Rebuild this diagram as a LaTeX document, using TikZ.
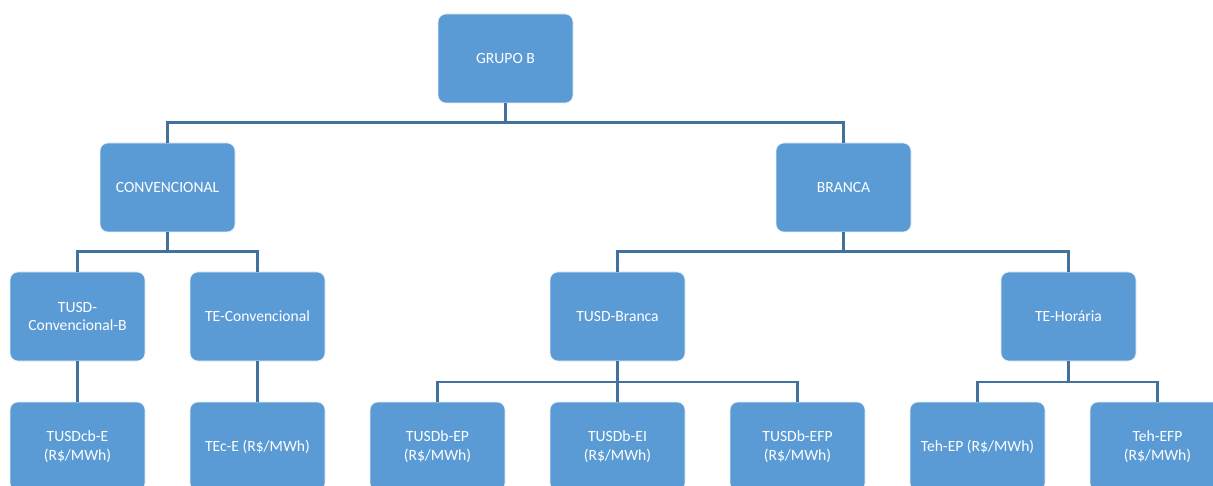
\documentclass[tikz,border=0pt]{standalone}
\usepackage{fontspec}
\setmainfont{Carlito}
\usepackage{xcolor}
\usetikzlibrary{positioning, calc}
\definecolor{boxblue}{HTML}{5B9BD5}
\definecolor{linkblue}{HTML}{41719C}

\tikzset{
  tbox/.style={fill=boxblue, draw=white!85!boxblue, line width=0.6pt, rounded corners=8pt,
               minimum width=135pt, minimum height=89pt, text=white, align=center,
               font=\fontsize{15.6}{18.4}\selectfont},
  link/.style={draw=linkblue, line width=2.6pt}
}

\begin{document}
\begin{tikzpicture}[x=1pt, y=1pt]
  \useasboundingbox[fill=white] (0,0) rectangle (1213,-486);
  % level 1
  \node[tbox] (grupo) at (505.5,-58.5) {GRUPO B};
  % level 2
  \node[tbox] (conv) at (167.5,-187.5) {CONVENCIONAL};
  \node[tbox] (branca) at (843.5,-187.5) {BRANCA};
  % level 3
  \node[tbox] (tusdconv) at (77.5,-316.5) {TUSD-\\Convencional-B};
  \node[tbox] (teconv) at (257.5,-316.5) {TE-Convencional};
  \node[tbox] (tusdbr) at (617.5,-316.5) {TUSD-Branca};
  \node[tbox] (tehor) at (1068.5,-316.5) {TE-Horária};
  % level 4
  \node[tbox] (tusdcbe) at (77.5,-446.5) {TUSDcb-E\\(R\$/MWh)};
  \node[tbox] (tece) at (257.5,-446.5) {TEc-E (R\$/MWh)};
  \node[tbox] (tusdbep) at (437.5,-446.5) {TUSDb-EP\\(R\$/MWh)};
  \node[tbox] (tusdbei) at (617.5,-446.5) {TUSDb-EI\\(R\$/MWh)};
  \node[tbox] (tusdbefp) at (797.5,-446.5) {TUSDb-EFP\\(R\$/MWh)};
  \node[tbox] (tehep) at (977.5,-446.5) {Teh-EP (R\$/MWh)};
  \node[tbox] (tehefp) at (1157.5,-446.5) {Teh-EFP\\(R\$/MWh)};

  % connectors
  \draw[link] (grupo.south) -- ++(0,-19.5) -| (conv.north);
  \draw[link] (grupo.south) -- ++(0,-19.5) -| (branca.north);
  \draw[link] (conv.south) -- ++(0,-19.5) -| (tusdconv.north);
  \draw[link] (conv.south) -- ++(0,-19.5) -| (teconv.north);
  \draw[link] (branca.south) -- ++(0,-19.5) -| (tusdbr.north);
  \draw[link] (branca.south) -- ++(0,-19.5) -| (tehor.north);
  \draw[link] (tusdconv) -- (tusdcbe);
  \draw[link] (teconv) -- (tece);
  \draw[link] (tusdbr.south) -- ++(0,-20.5) -| (tusdbep.north);
  \draw[link] (tusdbr) -- (tusdbei);
  \draw[link] (tusdbr.south) -- ++(0,-20.5) -| (tusdbefp.north);
  \draw[link] (tehor.south) -- ++(0,-20.5) -| (tehep.north);
  \draw[link] (tehor.south) -- ++(0,-20.5) -| (tehefp.north);
\end{tikzpicture}
\end{document}
